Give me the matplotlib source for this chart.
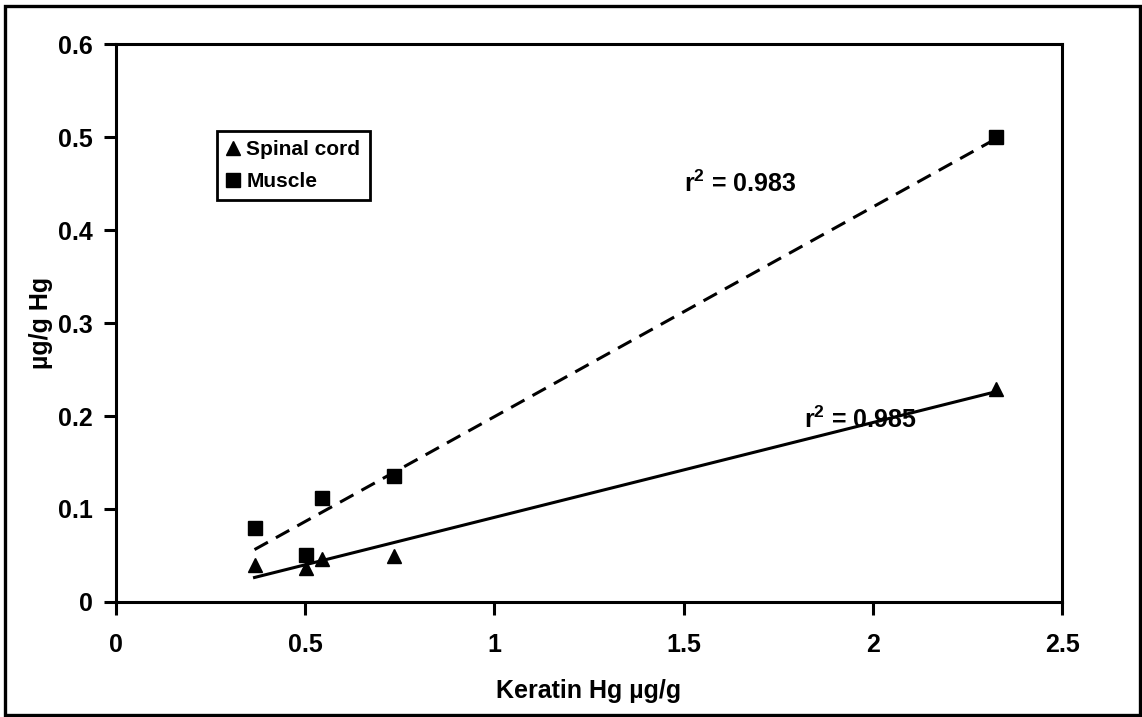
"""Hg in spinal cord and muscle versus keratin Hg, with linear fits."""

import matplotlib.pyplot as plt
import numpy as np
from matplotlib.patches import Rectangle

plt.rcParams["font.family"] = ["Liberation Sans", "DejaVu Sans"]
plt.rcParams["font.weight"] = "bold"
plt.rcParams["mathtext.fontset"] = "custom"
plt.rcParams["mathtext.bf"] = "Liberation Sans:bold"
plt.rcParams["mathtext.rm"] = "Liberation Sans:bold"

# keratin Hg (ug/g) for each sample
keratin = [0.366, 0.502, 0.543, 0.734, 2.325]
# tissue Hg (ug/g)
spinal_cord = [0.040, 0.037, 0.046, 0.049, 0.229]
muscle = [0.080, 0.050, 0.112, 0.135, 0.500]

r2_labels = {"muscle": "0.983", "spinal": "0.985"}

fig = plt.figure(figsize=(11.42, 7.17), dpi=100)
ax = fig.add_axes([0.1016, 0.1604, 0.8284, 0.7782])

x = np.array(keratin)
xfit = np.array([x.min(), x.max()])

# least-squares lines through each tissue series
for ys, ls in ((muscle, (0, (5, 3))), (spinal_cord, "-")):
    k, b = np.polyfit(x, ys, 1)
    ax.plot(xfit, k * xfit + b, color="black", lw=2.2, ls=ls, zorder=2)

ax.plot(keratin, spinal_cord, "^", color="black", ms=10, ls="none",
        label="Spinal cord", zorder=3)
ax.plot(keratin, muscle, "s", color="black", ms=9.5, ls="none",
        label="Muscle", zorder=3)

ax.text(1.50, 0.450, r"r$^{\mathbf{2}}$ = " + r2_labels["muscle"],
        fontsize=18, fontweight="bold", ha="left", va="center")
ax.text(1.817, 0.196, r"r$^{\mathbf{2}}$ = " + r2_labels["spinal"],
        fontsize=18, fontweight="bold", ha="left", va="center")

ax.set_xlim(0, 2.5)
ax.set_ylim(0, 0.6)
ax.set_xticks([0, 0.5, 1, 1.5, 2, 2.5])
ax.set_xticklabels(["0", "0.5", "1", "1.5", "2", "2.5"])
ax.set_yticks([0, 0.1, 0.2, 0.3, 0.4, 0.5, 0.6])
ax.set_yticklabels(["0", "0.1", "0.2", "0.3", "0.4", "0.5", "0.6"])
ax.tick_params(direction="out", length=9, width=2.2, labelsize=18, pad=8)
ax.tick_params(axis="x", pad=13)
for sp in ax.spines.values():
    sp.set_linewidth(2.2)

ax.set_xlabel("Keratin Hg \u00b5g/g", fontsize=18, fontweight="bold",
              labelpad=16)
ax.set_ylabel("\u00b5g/g Hg", fontsize=18, fontweight="bold", labelpad=3)

leg = ax.legend(loc="upper left", bbox_to_anchor=(217 / 1142, 1 - 131 / 717),
                bbox_transform=fig.transFigure, fontsize=15,
                handlelength=0.6, handletextpad=0.35, borderpad=0.45,
                labelspacing=0.6, fancybox=False, framealpha=1,
                edgecolor="black", borderaxespad=0)
leg.get_frame().set_linewidth(2)
for t in leg.get_texts():
    t.set_fontweight("bold")

# outer border round the whole figure
fig.patches.append(Rectangle((0.004, 0.003), 0.994, 0.988,
                             transform=fig.transFigure, fill=False,
                             lw=2.4, ec="black"))

fig.savefig("out.png", dpi=100)
